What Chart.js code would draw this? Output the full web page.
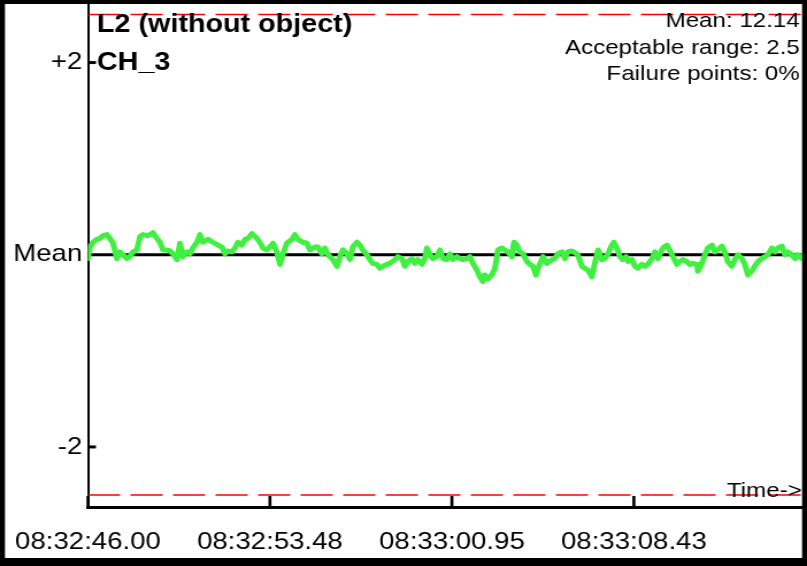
<!DOCTYPE html>
<html>
<head>
<meta charset="utf-8">
<script src="https://cdn.jsdelivr.net/npm/chart.js@4"></script>
<style>
    html, body { margin: 0; padding: 0; background: #fff; overflow: hidden; }
    /* the reference is stretched sideways, so draw narrow and scale it out */
    #wrap { width: 702px; height: 566px; transform: scaleX(1.1496); transform-origin: 0 0; }
</style>
</head>
<body>
<div id="wrap"><canvas id="myChart"></canvas></div>
<script>
// seconds after 08:32:46.00
const times = [0,0.08,0.21,0.37,0.49,0.62,0.78,0.90,1.03,1.19,1.31,1.44,1.60,1.72,1.85,2.01,2.14,2.26,2.42,2.55,2.67,2.83,2.96,3.08,3.24,3.37,3.49,3.66,3.78,3.90,4.07,4.19,4.31,4.48,4.60,4.72,4.93,5.13,5.34,5.50,5.63,5.75,5.91,6.04,6.16,6.32,6.45,6.57,6.74,6.94,7.06,7.19,7.35,7.47,7.60,7.76,7.89,8.01,8.17,8.38,8.50,8.62,8.83,8.99,9.12,9.32,9.45,9.61,9.73,9.86,10.06,10.23,10.35,10.47,10.64,10.76,10.88,11.05,11.17,11.29,11.46,11.58,11.70,11.87,11.99,12.12,12.28,12.40,12.61,12.73,12.90,13.02,13.14,13.31,13.43,13.55,13.72,13.84,13.92,14.05,14.17,14.33,14.46,14.58,14.74,14.87,14.99,15.16,15.28,15.40,15.57,15.69,15.81,15.98,16.10,16.22,16.30,16.43,16.59,16.72,16.84,17.00,17.13,17.25,17.41,17.50,17.62,17.74,17.87,18.03,18.15,18.28,18.40,18.52,18.69,18.85,19.06,19.18,19.30,19.47,19.59,19.71,19.88,20.00,20.12,20.29,20.41,20.54,20.70,20.82,20.95,21.11,21.23,21.36,21.52,21.60,21.73,21.85,21.97,22.10,22.18,22.34,22.47,22.59,22.75,22.88,23.00,23.17,23.29,23.41,23.57,23.66,23.78,23.90,24.03,24.19,24.31,24.44,24.60,24.72,24.85,25.01,25.05,25.22,25.34,25.46,25.63,25.75,25.87,26.04,26.16,26.28,26.45,26.57,26.70,26.86,26.98,27.11,27.27,27.39,27.52,27.68,27.81,27.93,28.09,28.22,28.34,28.50,28.63,28.75,28.91,29.04,29.16,29.32,29.45];

// deviation from the mean
const deviation = [-0.04,0.08,0.13,0.16,0.17,0.20,0.21,0.17,0.12,-0.04,0.03,0.00,-0.04,-0.02,0.03,0.05,0.19,0.21,0.20,0.21,0.23,0.17,0.13,0.05,0.05,0.04,0.01,-0.05,0.12,-0.02,0.03,0.01,0.07,0.13,0.21,0.13,0.16,0.13,0.10,0.08,0.01,0.04,0.03,0.07,0.13,0.10,0.16,0.17,0.22,0.17,0.13,0.07,0.05,0.08,0.12,0.03,-0.10,0.01,0.12,0.16,0.21,0.16,0.13,0.12,0.05,0.08,0.08,0.01,0.07,0.00,-0.05,-0.12,-0.02,0.05,0.01,-0.05,0.08,0.13,0.10,0.05,0.00,-0.05,-0.09,-0.10,-0.14,-0.12,-0.10,-0.09,-0.05,-0.02,-0.04,-0.12,-0.07,-0.04,-0.09,-0.05,-0.10,-0.04,0.07,0.00,-0.04,-0.02,0.05,-0.04,-0.05,0.01,-0.05,-0.02,-0.04,-0.05,-0.04,-0.02,-0.09,-0.16,-0.23,-0.28,-0.21,-0.25,-0.21,-0.14,0.05,0.07,0.05,0.03,-0.02,0.13,0.10,0.03,0.01,-0.07,-0.10,-0.12,-0.21,-0.12,-0.02,-0.09,-0.05,-0.04,0.01,0.03,-0.04,0.03,0.04,0.02,0.00,-0.12,-0.14,-0.16,-0.23,-0.09,0.05,-0.05,-0.04,0.01,0.10,0.13,0.07,-0.02,-0.05,-0.02,-0.07,-0.05,-0.12,-0.14,-0.10,-0.12,-0.10,-0.04,0.03,-0.04,0.05,0.08,0.10,0.05,-0.02,-0.10,-0.07,-0.05,-0.07,-0.10,-0.09,-0.10,-0.17,-0.09,0.00,0.07,0.10,0.03,0.05,0.09,0.03,-0.07,-0.12,-0.05,0.00,-0.04,-0.10,-0.21,-0.17,-0.12,-0.07,-0.04,-0.02,0.00,0.07,0.03,0.07,0.09,0.00,0.03,0.00,-0.04,0.00,-0.04,-0.02];

const xTickValues = [0, 7.475, 14.95, 22.425];
const xTickLabels = ['08:32:46.00', '08:32:53.48', '08:33:00.95', '08:33:08.43'];
const yTickValues = [-2, 0, 2];
const yTickLabels = ['-2', 'Mean', '+2'];

const limit = 2.5;
const xMax = 29.32;
const titleLines = ['L2 (without object)', 'CH_3'];
const infoLines = ['Mean: 12.14', 'Acceptable range: 2.5', 'Failure points: 0%'];

const FONT = '"Liberation Sans", Arial, sans-serif';

const extras = {
    id: 'extras',
    afterDraw(chart) {
        const c = chart.ctx;
        const area = chart.chartArea;
        const xs = chart.scales.x, ys = chart.scales.y;
        c.save();
        c.strokeStyle = '#000';

        // tick marks pointing into the plot
        c.lineWidth = 2.6;
        xTickValues.forEach(v => {
            const px = xs.getPixelForValue(v);
            c.beginPath();
            c.moveTo(px, area.bottom);
            c.lineTo(px, area.bottom - 11);
            c.stroke();
        });
        c.lineWidth = 3;
        [-2, 2].forEach(v => {
            const py = ys.getPixelForValue(v);
            c.beginPath();
            c.moveTo(area.left, py);
            c.lineTo(area.left + 7, py);
            c.stroke();
        });

        c.fillStyle = '#000';
        c.font = 'bold 25px ' + FONT;
        c.textAlign = 'left';
        c.fillText(titleLines[0], 84.3, 32);
        c.fillText(titleLines[1], 84.3, 70);

        c.font = '21px ' + FONT;
        c.textAlign = 'right';
        infoLines.forEach((t, i) => c.fillText(t, 695.7, 27 + i * 26.5));
        c.fillText('Time->', 697.4, 497);

        // outer frame
        const W = chart.width, H = chart.height;
        c.fillRect(0, 0, W, 4);
        c.fillRect(0, 0, 4.3, H);
        c.fillRect(W - 4.3, 0, 4.3, H);
        c.fillRect(0, 558, W, H - 558);
        c.restore();
    }
};

function noPad(s) {
    s.paddingTop = 0;
    s.paddingBottom = 0;
    s.paddingLeft = 0;
    s.paddingRight = 0;
}

const ctx = document.getElementById('myChart').getContext('2d');
new Chart(ctx, {
    type: 'line',
    data: {
        datasets: [
            {
                data: times.map((t, i) => ({ x: t, y: deviation[i] })),
                borderColor: '#40f040',
                borderWidth: 5,
                borderJoinStyle: 'round',
                borderCapStyle: 'round',
                pointRadius: 0,
                tension: 0,
                order: 0
            },
            {
                data: [{ x: 0, y: 0 }, { x: xMax, y: 0 }],
                borderColor: '#000',
                borderWidth: 3,
                pointRadius: 0,
                order: 1
            },
            {
                data: [{ x: 0, y: limit }, { x: xMax, y: limit }],
                borderColor: '#ff0000',
                borderWidth: 1.5,
                borderDash: [28, 9],
                pointRadius: 0,
                order: 1
            },
            {
                data: [{ x: 0, y: -limit }, { x: xMax, y: -limit }],
                borderColor: '#ff0000',
                borderWidth: 1.5,
                borderDash: [28, 9],
                pointRadius: 0,
                order: 1
            }
        ]
    },
    options: {
        responsive: true,
        maintainAspectRatio: false,
        animation: false,
        layout: { padding: { top: 0, left: 0, right: 4.6, bottom: 0 } },
        plugins: {
            legend: { display: false },
            tooltip: { enabled: false }
        },
        scales: {
            x: {
                type: 'linear',
                min: 0,
                max: xMax,
                afterBuildTicks: s => { s.ticks = xTickValues.map(v => ({ value: v })); },
                afterFit: s => { s.height = 59; noPad(s); },
                grid: { display: false, drawTicks: false, tickLength: 0 },
                border: { display: true, color: '#000', width: 3 },
                ticks: {
                    color: '#000',
                    font: { family: FONT, size: 24 },
                    padding: 21,
                    autoSkip: false,
                    maxRotation: 0,
                    callback: (v, i) => xTickLabels[i]
                }
            },
            y: {
                min: -2.625,
                max: 2.625,
                afterBuildTicks: s => { s.ticks = yTickValues.map(v => ({ value: v })); },
                afterFit: s => { s.width = 76.5; noPad(s); },
                grid: { display: false, drawTicks: false, tickLength: 0 },
                border: { display: true, color: '#000', width: 2 },
                ticks: {
                    color: '#000',
                    font: { family: FONT, size: 24 },
                    padding: 5,
                    callback: (v, i) => yTickLabels[i]
                }
            }
        }
    },
    plugins: [extras]
});
</script>
</body>
</html>
